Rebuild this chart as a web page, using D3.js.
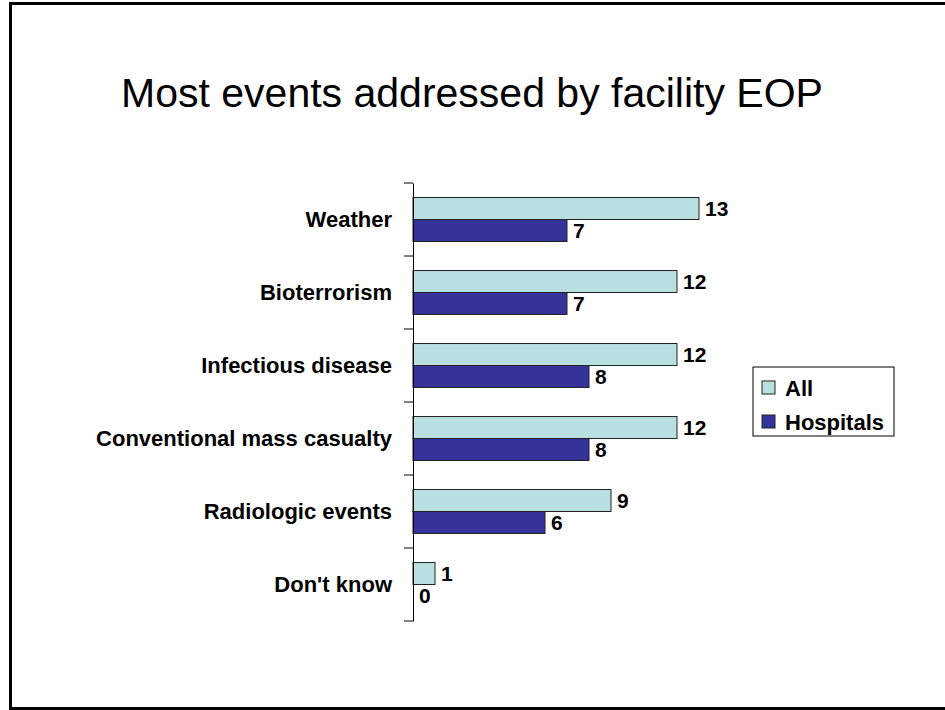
<!DOCTYPE html>
<html>
<head>
<meta charset="utf-8">
<script src="https://cdn.jsdelivr.net/npm/d3@7"></script>
<style>
    body { margin: 0; background: #fff; }
    svg { display: block; font-family: Arial, "Liberation Sans", sans-serif; }
</style>
</head>
<body>
<svg id="chart" width="945" height="710"></svg>
<script>
var categories = ['Weather', 'Bioterrorism', 'Infectious disease', 'Conventional mass casualty', 'Radiologic events', "Don't know"];
var seriesNames = ['All', 'Hospitals'];
var allValues = [13, 12, 12, 12, 9, 1];
var hospitalValues = [7, 7, 8, 8, 6, 0];
var colors = ['#b8e0e1', '#333399'];

var svg = d3.select('#chart');

// slide frame
svg.append('rect')
    .attr('x', 10.5)
    .attr('y', 3.5)
    .attr('width', 945)
    .attr('height', 705)
    .attr('fill', 'none')
    .attr('stroke', '#000')
    .attr('stroke-width', 3);

svg.append('text')
    .attr('x', 472)
    .attr('y', 107)
    .attr('text-anchor', 'middle')
    .style('font-size', '41px')
    .text('Most events addressed by facility EOP');

var x = d3.scaleLinear().domain([0, 13]).range([413, 699]);
var y = d3.scaleBand().domain(categories).range([183, 621]).paddingInner(0).paddingOuter(0);
var inner = d3.scaleBand().domain(seriesNames).range([0, y.bandwidth()]).paddingInner(0).paddingOuter(0.66);

var rows = categories.map(function(c, i) {
    return {cat: c, values: [allValues[i], hospitalValues[i]]};
});

var g = svg.append('g');

var groups = g.selectAll('g.cat')
    .data(rows)
    .enter()
    .append('g')
    .attr('class', 'cat')
    .attr('transform', function(d) { return 'translate(0,' + y(d.cat) + ')'; });

groups.selectAll('rect')
    .data(function(d) { return d.values.map(function(v, j) { return {s: seriesNames[j], v: v, j: j}; }); })
    .enter()
    .append('rect')
    .attr('x', x(0))
    .attr('y', function(d) { return inner(d.s); })
    .attr('width', function(d) { return x(d.v) - x(0); })
    .attr('height', inner.bandwidth())
    .attr('fill', function(d) { return colors[d.j]; })
    .attr('stroke', function(d) { return d.v > 0 ? '#222' : 'none'; })
    .attr('stroke-width', 1);

groups.selectAll('text.val')
    .data(function(d) { return d.values.map(function(v, j) { return {s: seriesNames[j], v: v, j: j}; }); })
    .enter()
    .append('text')
    .attr('class', 'val')
    .attr('x', function(d) { return x(d.v) + 6; })
    .attr('y', function(d) { return inner(d.s) + inner.bandwidth() / 2; })
    .attr('dy', '0.36em')
    .style('font-size', '21px')
    .style('font-weight', 'bold')
    .text(function(d) { return d.v; });

// category axis
var yAxis = d3.axisLeft(y).tickSize(0).tickPadding(21);
var gY = svg.append('g')
    .attr('transform', 'translate(' + x(0) + ',0)')
    .call(yAxis);
gY.select('.domain').attr('stroke', '#000');
gY.selectAll('.tick text')
    .style('font-size', '22px')
    .style('font-weight', 'bold')
    .style('font-family', 'Arial, "Liberation Sans", sans-serif')
    .attr('fill', '#000');

// tick marks between categories
var bounds = categories.map(function(c) { return y(c); }).concat([y.range()[1]]);
svg.append('g')
    .selectAll('line')
    .data(bounds)
    .enter()
    .append('line')
    .attr('x1', x(0) - 9)
    .attr('x2', x(0))
    .attr('y1', function(d) { return d; })
    .attr('y2', function(d) { return d; })
    .attr('stroke', '#000');

// legend
var legend = svg.append('g').attr('transform', 'translate(753,367)');
legend.append('rect')
    .attr('width', 141)
    .attr('height', 69)
    .attr('fill', '#fff')
    .attr('stroke', '#000');
var items = legend.selectAll('g.item')
    .data(seriesNames)
    .enter()
    .append('g')
    .attr('class', 'item')
    .attr('transform', function(d, i) { return 'translate(9,' + (21 + i * 34) + ')'; });
items.append('rect')
    .attr('y', -7)
    .attr('width', 13)
    .attr('height', 13)
    .attr('fill', function(d, i) { return colors[i]; })
    .attr('stroke', '#222');
items.append('text')
    .attr('x', 23)
    .attr('y', 0)
    .attr('dy', '0.36em')
    .style('font-size', '22px')
    .style('font-weight', 'bold')
    .text(function(d) { return d; });
</script>
</body>
</html>
